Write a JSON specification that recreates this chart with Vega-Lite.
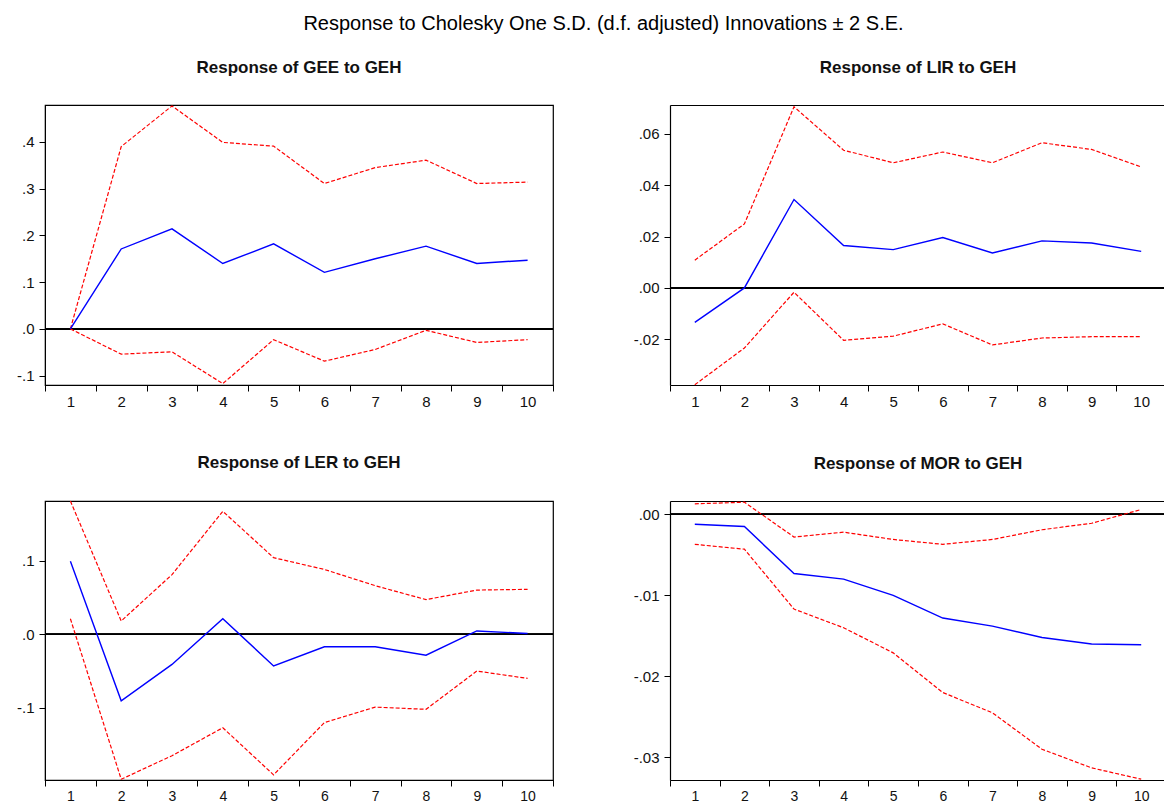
{
  "$schema": "https://vega.github.io/schema/vega-lite/v6.json",
  "background": "white",
  "padding": {"left": 0, "top": 13, "right": 0, "bottom": 0},
  "title": {"text": "Response to Cholesky One S.D. (d.f. adjusted) Innovations ± 2 S.E.", "fontSize": 20, "font": "Liberation Sans", "fontWeight": "normal", "anchor": "middle", "dx": 20, "offset": 24, "color": "#000"},
  "datasets": {
    "gee": [
      {"period": 1, "resp": 0.0, "lower": 0.0, "upper": 0.0},
      {"period": 2, "resp": 0.171, "lower": -0.054, "upper": 0.39},
      {"period": 3, "resp": 0.214, "lower": -0.049, "upper": 0.477},
      {"period": 4, "resp": 0.14, "lower": -0.117, "upper": 0.399},
      {"period": 5, "resp": 0.182, "lower": -0.023, "upper": 0.391},
      {"period": 6, "resp": 0.121, "lower": -0.069, "upper": 0.311},
      {"period": 7, "resp": 0.15, "lower": -0.044, "upper": 0.345},
      {"period": 8, "resp": 0.177, "lower": -0.003, "upper": 0.361},
      {"period": 9, "resp": 0.14, "lower": -0.029, "upper": 0.311},
      {"period": 10, "resp": 0.147, "lower": -0.023, "upper": 0.314}
    ],
    "lir": [
      {"period": 1, "resp": -0.0134, "lower": -0.0377, "upper": 0.0108},
      {"period": 2, "resp": 0.0, "lower": -0.0234, "upper": 0.0249},
      {"period": 3, "resp": 0.0344, "lower": -0.0017, "upper": 0.0705},
      {"period": 4, "resp": 0.0165, "lower": -0.0204, "upper": 0.0536},
      {"period": 5, "resp": 0.0149, "lower": -0.0188, "upper": 0.0487},
      {"period": 6, "resp": 0.0196, "lower": -0.014, "upper": 0.0529},
      {"period": 7, "resp": 0.0136, "lower": -0.0222, "upper": 0.0487},
      {"period": 8, "resp": 0.0183, "lower": -0.0195, "upper": 0.0565},
      {"period": 9, "resp": 0.0175, "lower": -0.019, "upper": 0.0539},
      {"period": 10, "resp": 0.0142, "lower": -0.019, "upper": 0.0471}
    ],
    "ler": [
      {"period": 1, "resp": 0.099, "lower": 0.021, "upper": 0.181},
      {"period": 2, "resp": -0.0905, "lower": -0.197, "upper": 0.018},
      {"period": 3, "resp": -0.041, "lower": -0.165, "upper": 0.081},
      {"period": 4, "resp": 0.021, "lower": -0.127, "upper": 0.167},
      {"period": 5, "resp": -0.043, "lower": -0.191, "upper": 0.104},
      {"period": 6, "resp": -0.017, "lower": -0.12, "upper": 0.088},
      {"period": 7, "resp": -0.017, "lower": -0.099, "upper": 0.066},
      {"period": 8, "resp": -0.0285, "lower": -0.102, "upper": 0.047},
      {"period": 9, "resp": 0.0045, "lower": -0.05, "upper": 0.06},
      {"period": 10, "resp": 0.001, "lower": -0.06, "upper": 0.061}
    ],
    "mor": [
      {"period": 1, "resp": -0.00123, "lower": -0.0037, "upper": 0.0013},
      {"period": 2, "resp": -0.0015, "lower": -0.0043, "upper": 0.0015},
      {"period": 3, "resp": -0.0073, "lower": -0.0117, "upper": -0.0028},
      {"period": 4, "resp": -0.008, "lower": -0.014, "upper": -0.0022},
      {"period": 5, "resp": -0.01, "lower": -0.0171, "upper": -0.0031},
      {"period": 6, "resp": -0.0128, "lower": -0.022, "upper": -0.0037},
      {"period": 7, "resp": -0.0138, "lower": -0.0245, "upper": -0.0031},
      {"period": 8, "resp": -0.0152, "lower": -0.029, "upper": -0.0019},
      {"period": 9, "resp": -0.016, "lower": -0.0313, "upper": -0.0011},
      {"period": 10, "resp": -0.0161, "lower": -0.0327, "upper": 0.0006}
    ]
  },
  "spacing": 41,
  "vconcat": [
    {
      "spacing": 71,
      "hconcat": [
        {
          "width": 508, "height": 280,
          "title": "Response of GEE to GEH",
          "view": {"stroke": "#000", "strokeWidth": 1.2},
          "data": {"name": "gee"},
          "layer": [
            {"mark": {"type": "rule", "color": "#000", "strokeWidth": 1.2}, "encoding": {"y": {"datum": 0, "type": "quantitative"}}},
            {"mark": {"type": "line", "color": "#FF0000", "strokeWidth": 1.2, "strokeDash": [4, 2]},
             "encoding": {
               "x": {"field": "period", "type": "ordinal", "scale": {"type": "band", "paddingInner": 0, "paddingOuter": 0}, "axis": {"title": null, "labelAngle": 0, "tickBand": "extent", "tickSize": 6, "labelPadding": 3, "minExtent": 26, "maxExtent": 26}},
               "y": {"field": "upper", "type": "quantitative", "scale": {"domain": [-0.12, 0.479], "nice": false, "zero": false}, "axis": {"title": null, "values": [-0.1, 0, 0.1, 0.2, 0.3, 0.4], "labelExpr": "replace(replace(format(datum.value, '.1f'), '0.', '.'), '−', '-')", "tickSize": 6, "labelPadding": 5, "minExtent": 44, "maxExtent": 44}}}},
            {"mark": {"type": "line", "color": "#FF0000", "strokeWidth": 1.2, "strokeDash": [4, 2]},
             "encoding": {"x": {"field": "period", "type": "ordinal"}, "y": {"field": "lower", "type": "quantitative", "axis": {"title": null}}}},
            {"mark": {"type": "line", "color": "#0000FF", "strokeWidth": 1.4},
             "encoding": {"x": {"field": "period", "type": "ordinal"}, "y": {"field": "resp", "type": "quantitative", "axis": {"title": null}}}}
          ]
        },
        {
          "width": 496, "height": 280,
          "title": "Response of LIR to GEH",
          "data": {"name": "lir"},
          "resolve": {"axis": {"x": "independent"}},
          "layer": [
            {"mark": {"type": "rule", "color": "#000", "strokeWidth": 1.2}, "encoding": {"y": {"datum": 0, "type": "quantitative"}}},
            {"mark": {"type": "line", "color": "#FF0000", "strokeWidth": 1.2, "strokeDash": [4, 2]},
             "encoding": {
               "x": {"field": "period", "type": "ordinal", "scale": {"type": "band", "paddingInner": 0, "paddingOuter": 0}, "axis": {"title": null, "labelAngle": 0, "tickBand": "extent", "tickSize": 6, "labelPadding": 3, "minExtent": 26, "maxExtent": 26, "domainWidth": 1.2}},
               "y": {"field": "upper", "type": "quantitative", "scale": {"domain": [-0.0378, 0.0712], "nice": false, "zero": false}, "axis": {"title": null, "values": [-0.02, 0, 0.02, 0.04, 0.06], "labelExpr": "replace(replace(format(datum.value, '.2f'), '0.', '.'), '−', '-')", "tickSize": 6, "labelPadding": 5, "minExtent": 44, "maxExtent": 44, "domainWidth": 1.2}}}},
            {"mark": {"type": "line", "color": "#FF0000", "strokeWidth": 1.2, "strokeDash": [4, 2]},
             "encoding": {"x": {"field": "period", "type": "ordinal", "axis": {"orient": "top", "title": null, "labels": false, "ticks": false, "domain": true, "domainWidth": 1.2, "minExtent": 0, "maxExtent": 0}}, "y": {"field": "lower", "type": "quantitative", "axis": {"title": null}}}},
            {"mark": {"type": "line", "color": "#0000FF", "strokeWidth": 1.4},
             "encoding": {"x": {"field": "period", "type": "ordinal", "axis": null}, "y": {"field": "resp", "type": "quantitative", "axis": {"title": null}}}}
          ]
        }
      ]
    },
    {
      "spacing": 71,
      "hconcat": [
        {
          "width": 508, "height": 279,
          "title": "Response of LER to GEH",
          "view": {"stroke": "#000", "strokeWidth": 1.2},
          "data": {"name": "ler"},
          "layer": [
            {"mark": {"type": "rule", "color": "#000", "strokeWidth": 1.2}, "encoding": {"y": {"datum": 0, "type": "quantitative"}}},
            {"mark": {"type": "line", "color": "#FF0000", "strokeWidth": 1.2, "strokeDash": [4, 2]},
             "encoding": {
               "x": {"field": "period", "type": "ordinal", "scale": {"type": "band", "paddingInner": 0, "paddingOuter": 0}, "axis": {"title": null, "labelAngle": 0, "tickBand": "extent", "tickSize": 6, "labelPadding": 3, "labelFontSize": 14, "minExtent": 24, "maxExtent": 24}},
               "y": {"field": "upper", "type": "quantitative", "scale": {"domain": [-0.198, 0.181], "nice": false, "zero": false}, "axis": {"title": null, "values": [-0.1, 0, 0.1], "labelExpr": "replace(replace(format(datum.value, '.1f'), '0.', '.'), '−', '-')", "tickSize": 6, "labelPadding": 5, "minExtent": 44, "maxExtent": 44}}}},
            {"mark": {"type": "line", "color": "#FF0000", "strokeWidth": 1.2, "strokeDash": [4, 2]},
             "encoding": {"x": {"field": "period", "type": "ordinal"}, "y": {"field": "lower", "type": "quantitative", "axis": {"title": null}}}},
            {"mark": {"type": "line", "color": "#0000FF", "strokeWidth": 1.4},
             "encoding": {"x": {"field": "period", "type": "ordinal"}, "y": {"field": "resp", "type": "quantitative", "axis": {"title": null}}}}
          ]
        },
        {
          "width": 496, "height": 279,
          "title": "Response of MOR to GEH",
          "data": {"name": "mor"},
          "resolve": {"axis": {"x": "independent"}},
          "layer": [
            {"mark": {"type": "rule", "color": "#000", "strokeWidth": 1.2}, "encoding": {"y": {"datum": 0, "type": "quantitative"}}},
            {"mark": {"type": "line", "color": "#FF0000", "strokeWidth": 1.2, "strokeDash": [4, 2]},
             "encoding": {
               "x": {"field": "period", "type": "ordinal", "scale": {"type": "band", "paddingInner": 0, "paddingOuter": 0}, "axis": {"title": null, "labelAngle": 0, "tickBand": "extent", "tickSize": 6, "labelPadding": 3, "labelFontSize": 14, "minExtent": 24, "maxExtent": 24, "domainWidth": 1.2}},
               "y": {"field": "upper", "type": "quantitative", "scale": {"domain": [-0.0328, 0.00165], "nice": false, "zero": false}, "axis": {"title": null, "values": [-0.03, -0.02, -0.01, 0], "labelExpr": "replace(replace(format(datum.value, '.2f'), '0.', '.'), '−', '-')", "tickSize": 6, "labelPadding": 5, "minExtent": 44, "maxExtent": 44, "domainWidth": 1.2}}}},
            {"mark": {"type": "line", "color": "#FF0000", "strokeWidth": 1.2, "strokeDash": [4, 2]},
             "encoding": {"x": {"field": "period", "type": "ordinal", "axis": {"orient": "top", "title": null, "labels": false, "ticks": false, "domain": true, "domainWidth": 1.2, "minExtent": 0, "maxExtent": 0}}, "y": {"field": "lower", "type": "quantitative", "axis": {"title": null}}}},
            {"mark": {"type": "line", "color": "#0000FF", "strokeWidth": 1.4},
             "encoding": {"x": {"field": "period", "type": "ordinal", "axis": null}, "y": {"field": "resp", "type": "quantitative", "axis": {"title": null}}}}
          ]
        }
      ]
    }
  ],
  "config": {
    "font": "Liberation Sans",
    "view": {"stroke": null},
    "axis": {"labelFont": "Liberation Sans", "labelFontSize": 15, "labelColor": "#111", "tickColor": "#000", "domainColor": "#000", "grid": false, "labelFontWeight": "normal"},
    "title": {"fontSize": 17, "font": "Liberation Sans", "fontWeight": "bold", "offset": 27, "anchor": "middle", "color": "#111"}
  }
}
